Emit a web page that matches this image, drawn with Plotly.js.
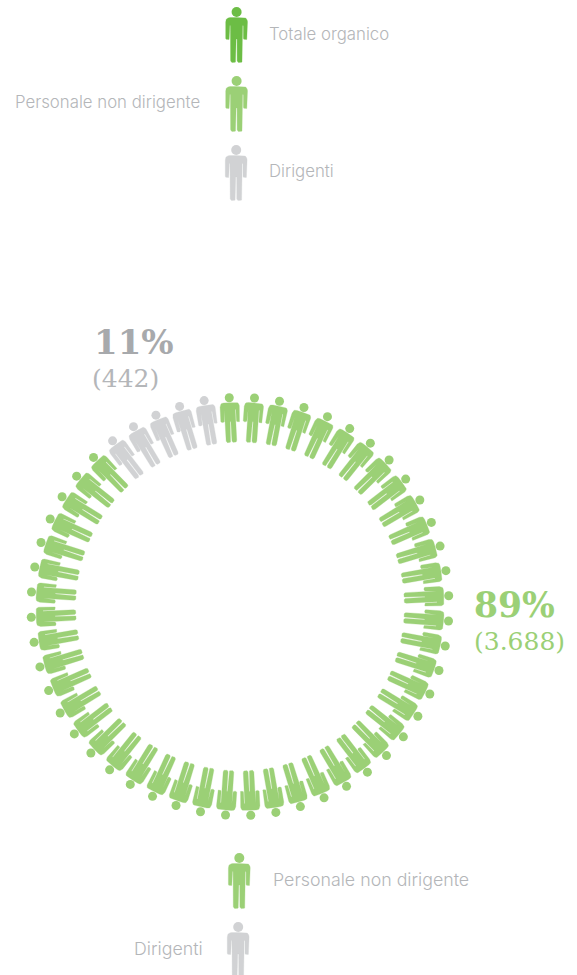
<!DOCTYPE html>
<html>
<head>
<meta charset="utf-8">
<script src="https://cdn.plot.ly/plotly-3.0.1.min.js"></script>
<style>html,body{margin:0;padding:0;background:#fff;overflow:hidden}</style>
</head>
<body>
<div id="chart" style="width:577px;height:975px"></div>
<script>
// Workforce split, one pictogram per share of staff around a ring
const groupNames = ["Personale non dirigente", "Dirigenti"];
const groupFigures = [47, 5];
const groupShares = ["89%", "11%"];
const groupCounts = ["(3.688)", "(442)"];
const topLegendLabels = ["Totale organico", "Personale non dirigente", "Dirigenti"];
const bottomLegendLabels = ["Personale non dirigente", "Dirigenti"];

const DARK_GREEN = "#6cbd45", GREEN = "#9bd076", GREY = "#d1d2d4";
const TEXT_GREY = "#b4b6b9";

// Half outline of a standing person: [x, y, corner radius], head centre at origin
const halfBody = [
  [0, 5.6, 0], [10.9, 5.6, 4.5], [10.9, 27.6, 1.6], [6.8, 27.6, 1.6], [6.8, 13.5, 0.2],
  [6, 13.5, 0.2], [6, 50.6, 2.4], [0.55, 50.6, 2.2], [0.55, 27, 0.1]
];
const outline = halfBody.concat(halfBody.slice().reverse().map(p => [-p[0], p[1], p[2]]));

function roundedOutline(pts) {
  const out = [];
  const n = pts.length;
  pts.forEach((p, i) => {
    const a = pts[(i - 1 + n) % n], b = pts[(i + 1) % n], r = p[2];
    const la = Math.hypot(a[0] - p[0], a[1] - p[1]) || 1;
    const lb = Math.hypot(b[0] - p[0], b[1] - p[1]) || 1;
    const s = [p[0] + (a[0] - p[0]) * Math.min(r, la / 2) / la, p[1] + (a[1] - p[1]) * Math.min(r, la / 2) / la];
    const e = [p[0] + (b[0] - p[0]) * Math.min(r, lb / 2) / lb, p[1] + (b[1] - p[1]) * Math.min(r, lb / 2) / lb];
    for (let t = 0; t <= 6; t++) {
      const u = t / 6;
      out.push([
        (1 - u) * (1 - u) * s[0] + 2 * u * (1 - u) * p[0] + u * u * e[0],
        (1 - u) * (1 - u) * s[1] + 2 * u * (1 - u) * p[1] + u * u * e[1]
      ]);
    }
  });
  return out;
}
const bodyShape = roundedOutline(outline);

// Collects bodies and heads per colour so each colour is a single pair of traces
function figureSet(color, headSize) {
  const set = { bx: [], by: [], hx: [], hy: [], color, headSize };
  set.add = (cx, cy, angle, scale) => {
    const c = Math.cos(angle), s = Math.sin(angle);
    bodyShape.forEach(p => {
      set.bx.push(cx + scale * (p[0] * c - p[1] * s));
      set.by.push(cy + scale * (p[0] * s + p[1] * c));
    });
    set.bx.push(null); set.by.push(null);
    set.hx.push(cx); set.hy.push(cy);
  };
  set.traces = () => [
    { x: set.bx, y: set.by, mode: "lines", fill: "toself", fillcolor: color,
      line: { color, width: 0.3 }, hoverinfo: "skip", showlegend: false },
    { x: set.hx, y: set.hy, mode: "markers", hoverinfo: "skip", showlegend: false,
      marker: { color, size: headSize, line: { width: 0 } } }
  ];
  return set;
}

const ringCenter = [240, 606.5], ringRadius = 209, ringScale = 0.885;
const ringGreen = figureSet(GREEN, 9), ringGrey = figureSet(GREY, 9);
const totalFigures = groupFigures[0] + groupFigures[1];
const step = 2 * Math.PI / totalFigures;
const firstAngle = -2.95 * Math.PI / 180;
for (let k = 0; k < totalFigures; k++) {
  const a = firstAngle + k * step;
  const set = k < groupFigures[0] ? ringGreen : ringGrey;
  const x = ringCenter[0] + ringRadius * Math.sin(a);
  const y = ringCenter[1] - ringRadius * Math.cos(a);
  set.add(x, y, a, ringScale);
}

const keyDark = figureSet(DARK_GREEN, 10), keyGreen = figureSet(GREEN, 10), keyGrey = figureSet(GREY, 10);
keyDark.add(236.6, 12, 0, 1);
keyGreen.add(236.6, 81, 0, 1);
keyGrey.add(236.2, 150, 0, 1);
keyGreen.add(239.3, 858, 0, 1);
keyGrey.add(238.2, 927, 0, 1);

const sans = "Inter, Liberation Sans, sans-serif";
const serif = "DejaVu Serif, serif";
const label = (text, x, y, anchor, font, size, color, weight) => ({
  text, x, y, xref: "x", yref: "y", xanchor: anchor, yanchor: "middle", showarrow: false,
  font: { family: font, size, color, weight: weight || 400 }
});

const layout = {
  width: 577, height: 975,
  margin: { l: 0, r: 0, t: 0, b: 0 },
  paper_bgcolor: "#fff", plot_bgcolor: "#fff",
  xaxis: { range: [0, 577], visible: false, fixedrange: true },
  yaxis: { range: [975, 0], visible: false, fixedrange: true },
  showlegend: false,
  annotations: [
    label(topLegendLabels[0], 266.5, 33.5, "left", sans, 16.8, TEXT_GREY, 300),
    label(topLegendLabels[1], 201.5, 102, "right", sans, 16.8, TEXT_GREY, 300),
    label(topLegendLabels[2], 266.5, 171, "left", sans, 16.8, TEXT_GREY, 300),
    label(bottomLegendLabels[0], 270.5, 879.5, "left", sans, 17.8, TEXT_GREY, 300),
    label(bottomLegendLabels[1], 204.5, 948, "right", sans, 17.8, TEXT_GREY, 300),
    label("<b>" + groupShares[1] + "</b>", 134, 342, "center", serif, 34, "#a7a9ac"),
    label(groupCounts[1], 125.5, 378, "center", serif, 25, "#b4b6b9"),
    label("<b>" + groupShares[0] + "</b>", 514, 605, "center", serif, 34.5, GREEN),
    label(groupCounts[0], 519, 641, "center", serif, 25, GREEN)
  ]
};

const traces = [ringGreen, ringGrey, keyDark, keyGreen, keyGrey].flatMap(s => s.traces());
Plotly.newPlot("chart", traces, layout, { staticPlot: true, displayModeBar: false });
</script>
</body>
</html>
